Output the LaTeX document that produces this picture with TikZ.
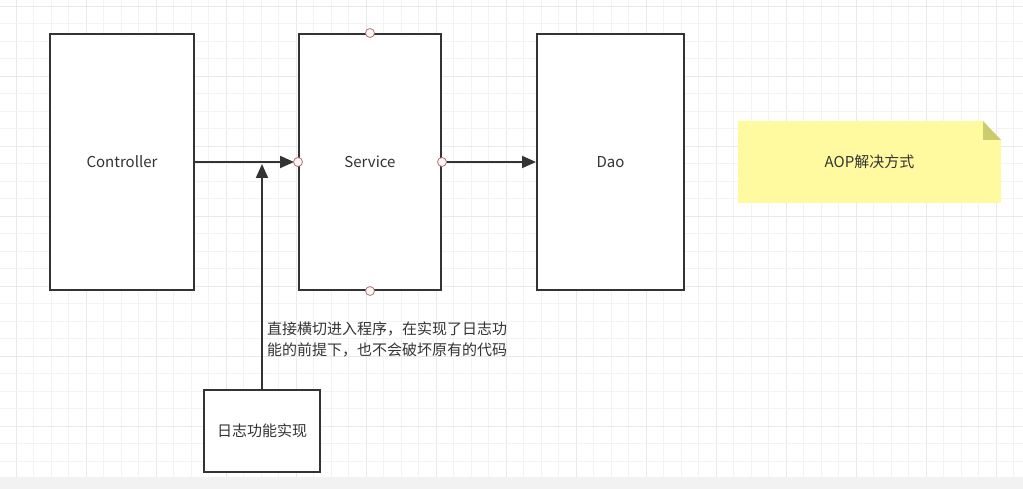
\documentclass[tikz,border=0pt]{standalone}
\usepackage{fontspec}
\setmainfont{Noto Sans CJK SC}
\usepackage{tikz}
\usetikzlibrary{arrows.meta}

\definecolor{inkgray}{RGB}{51,51,51}
\definecolor{minorgrid}{RGB}{243,243,243}
\definecolor{majorgrid}{RGB}{233,233,233}
\definecolor{stripgray}{RGB}{242,242,242}
\definecolor{noteyellow}{RGB}{255,250,160}
\definecolor{notefold}{RGB}{204,204,110}
\definecolor{portedge}{RGB}{170,120,120}
\definecolor{portfill}{RGB}{255,245,245}

\tikzset{
  layer/.style={draw=inkgray, line width=2pt, fill=white, text=inkgray, font=\fontsize{15}{18}\selectfont},
  flow/.style={draw=inkgray, line width=2pt, -{Triangle[length=14pt,width=12pt]}},
  port/.style={draw=portedge, fill=portfill, line width=0.8pt}
}

\begin{document}
\begin{tikzpicture}[x=1pt, y=-1pt]
	\useasboundingbox (0,0) rectangle (1023,489);
	% background grid
	\foreach \i in {0,...,57} {
		\pgfmathsetmacro{\gx}{16+17.5*\i}
		\pgfmathtruncatemacro{\md}{mod(\i,4)}
		\ifnum\md=0 \draw[majorgrid, line width=0.8pt] (\gx,0) -- (\gx,477);
		\else \draw[minorgrid, line width=0.8pt] (\gx,0) -- (\gx,477); \fi
	}
	\foreach \j in {0,...,26} {
		\pgfmathsetmacro{\gy}{6+17.5*\j}
		\pgfmathtruncatemacro{\md}{mod(\j,4)}
		\ifnum\md=0 \draw[majorgrid, line width=0.8pt] (0,\gy) -- (1023,\gy);
		\else \draw[minorgrid, line width=0.8pt] (0,\gy) -- (1023,\gy); \fi
	}
	\fill[stripgray] (0,477) rectangle (1023,489);

	% the three layers
	\node[layer, minimum width=144pt, minimum height=256pt] (controller) at (122,162) {Controller};
	\node[layer, minimum width=142pt, minimum height=256pt] (service) at (370,162) {Service};
	\node[layer, minimum width=147pt, minimum height=256pt] (dao) at (610.5,162) {Dao};
	\node[layer, minimum width=116pt, minimum height=82pt] (logging) at (262,431) {日志功能实现};

	\coordinate (cut) at (logging.north |- controller.east);
	\draw[flow, shorten >=4pt] (controller.east) -- (service.west);
	\draw[flow, shorten >=2pt] (logging.north) -- (cut);
	\draw[flow] (service.east) -- (dao.west);

	\foreach \a in {north,south,east,west}
		\draw[port] (service.\a) circle (4.5);

	\node[anchor=north west, align=left, text=inkgray, font=\fontsize{15}{21}\selectfont, inner sep=0pt] (note) at (267,322)
		{直接横切进入程序，在实现了日志功\\能的前提下，也不会破坏原有的代码};

	% sticky note
	\fill[noteyellow] (738,121) -- (983,121) -- (1001,140) -- (1001,203) -- (738,203) -- cycle;
	\fill[notefold] (983,121) -- (1001,140) -- (983,140) -- cycle;
	\node[text=inkgray, font=\fontsize{15}{18}\selectfont] (aop) at (869.5,162) {AOP解决方式};
\end{tikzpicture}
\end{document}
